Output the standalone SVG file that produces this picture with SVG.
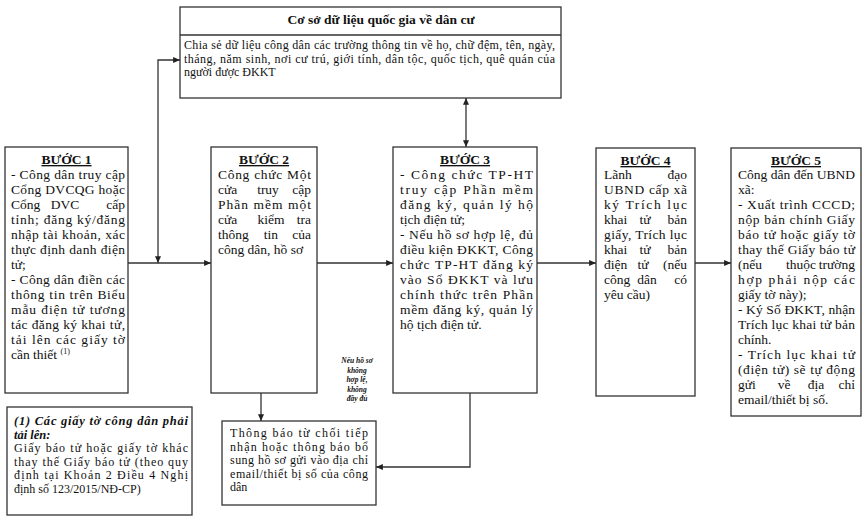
<svg xmlns="http://www.w3.org/2000/svg" width="864" height="521" viewBox="0 0 864 521">
<style>
.box{fill:#fff;stroke:#333;stroke-width:1.3}
text{font-family:"Liberation Serif","Times New Roman",serif;fill:#111}
.t{font-size:13.5px}
.h{font-size:13.5px;font-weight:bold;text-decoration:underline;text-anchor:middle}
.db{font-size:12px}
.n{font-size:12px}
.c{text-anchor:middle}
.e{text-anchor:end}
.lbl{font-size:7.5px;font-style:italic;font-weight:bold;text-anchor:middle}
.ln{fill:none;stroke:#333;stroke-width:1.3}
</style>
<defs>
<marker id="ah" viewBox="0 0 8 7" refX="8" refY="3.5" markerWidth="7" markerHeight="6" markerUnits="userSpaceOnUse" orient="auto-start-reverse">
<path d="M0,0 L8,3.5 L0,7 z" fill="#222"/>
</marker>
</defs>
<rect width="864" height="521" fill="#fff"/>

<g id="connectors">
<path class="ln" d="M128,263 H211" marker-end="url(#ah)"/>
<path class="ln" d="M158,263 V60 H180" marker-start="url(#ah)" marker-end="url(#ah)"/>
<path class="ln" d="M317,263 H393" marker-end="url(#ah)"/>
<path class="ln" d="M466,98 V147" marker-start="url(#ah)" marker-end="url(#ah)"/>
<path class="ln" d="M537,263 H596" marker-end="url(#ah)"/>
<path class="ln" d="M695,263 H731" marker-end="url(#ah)"/>
<path class="ln" d="M261,393 V421" marker-end="url(#ah)"/>
<path class="ln" d="M470,393 V467 H376" marker-end="url(#ah)"/>
<g id="label-invalid">
<text class="lbl" x="357" y="363">Nếu hồ sơ</text>
<text class="lbl" x="357" y="372.5">không</text>
<text class="lbl" x="357" y="382">hợp lệ,</text>
<text class="lbl" x="357" y="391.5">không</text>
<text class="lbl" x="357" y="401">đầy đủ</text>
</g>
</g>

<g id="db">
<rect class="box" x="180" y="7" width="381" height="91"/>
<line class="ln" x1="180" y1="35" x2="561" y2="35"/>
<text x="381" y="24" class="c" style="font-size:13.5px;font-weight:bold">Cơ sở dữ liệu quốc gia về dân cư</text>
<text class="db" x="184" y="49" textLength="371" lengthAdjust="spacing">Chia sẻ dữ liệu công dân các trường thông tin về họ, chữ đệm, tên, ngày,</text>
<text class="db" x="184" y="62.5" textLength="371" lengthAdjust="spacing">tháng, năm sinh, nơi cư trú, giới tính, dân tộc, quốc tịch, quê quán của</text>
<text class="db" x="184" y="76">người được ĐKKT</text>
</g>

<g id="step1">
<rect class="box" x="5" y="147" width="123" height="246"/>
<text class="h" x="66.5" y="164">BƯỚC 1</text>
<text class="t" x="11" y="179" textLength="114" lengthAdjust="spacing">- Công dân truy cập</text>
<text class="t" x="11" y="194" textLength="114" lengthAdjust="spacing">Cổng DVCQG hoặc</text>
<text class="t" x="11" y="209">Cổng</text><text class="t c" x="65" y="209">DVC</text><text class="t e" x="125" y="209">cấp</text>
<text class="t" x="11" y="224" textLength="114" lengthAdjust="spacing">tỉnh; đăng ký/đăng</text>
<text class="t" x="11" y="239" textLength="114" lengthAdjust="spacing">nhập tài khoản, xác</text>
<text class="t" x="11" y="254" textLength="114" lengthAdjust="spacing">thực định danh điện</text>
<text class="t" x="11" y="269">tử;</text>
<text class="t" x="11" y="284" textLength="114" lengthAdjust="spacing">- Công dân điền các</text>
<text class="t" x="11" y="299" textLength="114" lengthAdjust="spacing">thông tin trên Biểu</text>
<text class="t" x="11" y="314" textLength="114" lengthAdjust="spacing">mẫu điện tử tương</text>
<text class="t" x="11" y="329" textLength="114" lengthAdjust="spacing">tác đăng ký khai tử,</text>
<text class="t" x="11" y="344" textLength="114" lengthAdjust="spacing">tải lên các giấy tờ</text>
<text class="t" x="11" y="359">cần thiết <tspan style="font-size:8px" dy="-5">(1)</tspan></text>
</g>

<g id="step2">
<rect class="box" x="211" y="147" width="106" height="246"/>
<text class="h" x="264" y="164">BƯỚC 2</text>
<text class="t" x="218" y="179" textLength="93" lengthAdjust="spacing">Công chức Một</text>
<text class="t" x="218" y="194">cửa</text><text class="t c" x="268" y="194">truy</text><text class="t e" x="311" y="194">cập</text>
<text class="t" x="218" y="209" textLength="93" lengthAdjust="spacing">Phần mềm một</text>
<text class="t" x="218" y="224">cửa</text><text class="t c" x="271" y="224">kiểm</text><text class="t e" x="311" y="224">tra</text>
<text class="t" x="218" y="239">thông</text><text class="t c" x="271" y="239">tin</text><text class="t e" x="311" y="239">của</text>
<text class="t" x="218" y="254">công dân, hồ sơ</text>
</g>

<g id="step3">
<rect class="box" x="393" y="147" width="144" height="246"/>
<text class="h" x="465" y="164">BƯỚC 3</text>
<text class="t" x="400" y="179" textLength="133" lengthAdjust="spacing">- Công chức TP-HT</text>
<text class="t" x="400" y="194" textLength="133" lengthAdjust="spacing">truy cập Phần mềm</text>
<text class="t" x="400" y="209" textLength="133" lengthAdjust="spacing">đăng ký, quản lý hộ</text>
<text class="t" x="400" y="224">tịch điện tử;</text>
<text class="t" x="400" y="239" textLength="133" lengthAdjust="spacing">- Nếu hồ sơ hợp lệ, đủ</text>
<text class="t" x="400" y="254" textLength="133" lengthAdjust="spacing">điều kiện ĐKKT, Công</text>
<text class="t" x="400" y="269" textLength="133" lengthAdjust="spacing">chức TP-HT đăng ký</text>
<text class="t" x="400" y="284" textLength="133" lengthAdjust="spacing">vào Sổ ĐKKT và lưu</text>
<text class="t" x="400" y="299" textLength="133" lengthAdjust="spacing">chính thức trên Phần</text>
<text class="t" x="400" y="314" textLength="133" lengthAdjust="spacing">mềm đăng ký, quản lý</text>
<text class="t" x="400" y="329">hộ tịch điện tử.</text>
</g>

<g id="step4">
<rect class="box" x="596" y="148" width="99" height="248"/>
<text class="h" x="645.5" y="165">BƯỚC 4</text>
<text class="t" x="604" y="179">Lãnh</text><text class="t e" x="687" y="179">đạo</text>
<text class="t" x="604" y="194" textLength="83" lengthAdjust="spacing">UBND cấp xã</text>
<text class="t" x="604" y="209" textLength="83" lengthAdjust="spacing">ký Trích lục</text>
<text class="t" x="604" y="224">khai</text><text class="t c" x="645" y="224">tử</text><text class="t e" x="687" y="224">bản</text>
<text class="t" x="604" y="239" textLength="83" lengthAdjust="spacing">giấy, Trích lục</text>
<text class="t" x="604" y="254">khai</text><text class="t c" x="645" y="254">tử</text><text class="t e" x="687" y="254">bản</text>
<text class="t" x="604" y="269">điện</text><text class="t c" x="643" y="269">tử</text><text class="t e" x="687" y="269">(nếu</text>
<text class="t" x="604" y="284">công</text><text class="t c" x="647" y="284">dân</text><text class="t e" x="687" y="284">có</text>
<text class="t" x="604" y="299">yêu cầu)</text>
</g>

<g id="step5">
<rect class="box" x="731" y="148" width="130" height="268"/>
<text class="h" x="796" y="165">BƯỚC 5</text>
<text class="t" x="738" y="179" textLength="117" lengthAdjust="spacing">Công dân đến UBND</text>
<text class="t" x="738" y="194">xã:</text>
<text class="t" x="738" y="209" textLength="117" lengthAdjust="spacing">- Xuất trình CCCD;</text>
<text class="t" x="738" y="224" textLength="117" lengthAdjust="spacing">nộp bản chính Giấy</text>
<text class="t" x="738" y="239" textLength="117" lengthAdjust="spacing">báo tử hoặc giấy tờ</text>
<text class="t" x="738" y="254" textLength="117" lengthAdjust="spacing">thay thế Giấy báo tử</text>
<text class="t" x="738" y="269">(nếu</text><text class="t c" x="801" y="269">thuộc</text><text class="t e" x="855" y="269">trường</text>
<text class="t" x="738" y="284" textLength="117" lengthAdjust="spacing">hợp phải nộp các</text>
<text class="t" x="738" y="299">giấy tờ này);</text>
<text class="t" x="738" y="314" textLength="117" lengthAdjust="spacing">- Ký Số ĐKKT, nhận</text>
<text class="t" x="738" y="329" textLength="117" lengthAdjust="spacing">Trích lục khai tử bản</text>
<text class="t" x="738" y="344">chính.</text>
<text class="t" x="738" y="359" textLength="117" lengthAdjust="spacing">- Trích lục khai tử</text>
<text class="t" x="738" y="374" textLength="117" lengthAdjust="spacing">(điện tử) sẽ tự động</text>
<text class="t" x="738" y="389">gửi</text><text class="t c" x="784" y="389">về</text><text class="t c" x="816" y="389">địa</text><text class="t e" x="855" y="389">chỉ</text>
<text class="t" x="738" y="404">email/thiết bị số.</text>
</g>

<g id="note">
<rect class="box" x="7" y="407" width="185" height="108"/>
<text class="n" x="14" y="425" textLength="174" lengthAdjust="spacing" style="font-weight:bold;font-style:italic;font-size:12.5px">(1) Các giấy tờ công dân phải</text>
<text class="n" x="14" y="438.5" style="font-weight:bold;font-style:italic;font-size:12.5px">tải lên:</text>
<text class="n" x="14" y="452" textLength="174" lengthAdjust="spacing">Giấy báo tử hoặc giấy tờ khác</text>
<text class="n" x="14" y="465.5" textLength="174" lengthAdjust="spacing">thay thế Giấy báo tử (theo quy</text>
<text class="n" x="14" y="479" textLength="174" lengthAdjust="spacing">định tại Khoản 2 Điều 4 Nghị</text>
<text class="n" x="14" y="492.5">định số 123/2015/NĐ-CP)</text>
</g>

<g id="notify">
<rect class="box" x="222" y="421" width="154" height="84"/>
<text class="n" x="230" y="437" textLength="138" lengthAdjust="spacing">Thông báo từ chối tiếp</text>
<text class="n" x="230" y="450.5" textLength="138" lengthAdjust="spacing">nhận hoặc thông báo bổ</text>
<text class="n" x="230" y="464" textLength="138" lengthAdjust="spacing">sung hồ sơ gửi vào địa chỉ</text>
<text class="n" x="230" y="477.5" textLength="138" lengthAdjust="spacing">email/thiết bị số của công</text>
<text class="n" x="230" y="491">dân</text>
</g>
</svg>
